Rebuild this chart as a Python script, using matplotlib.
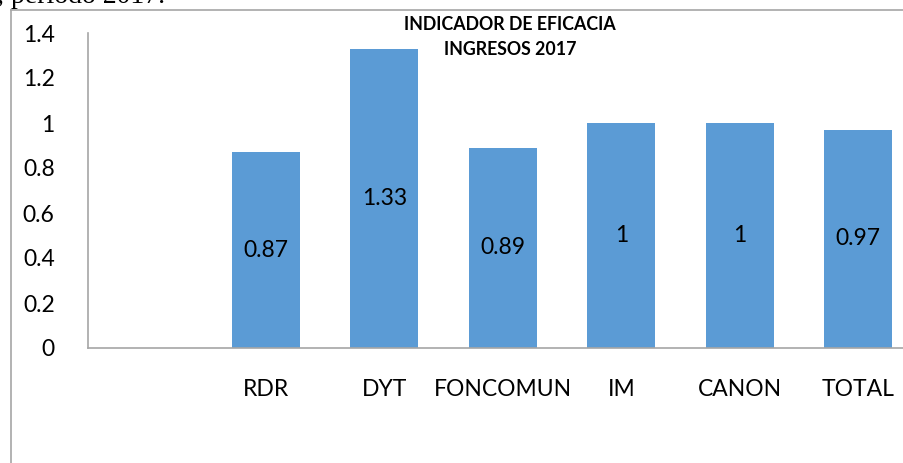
import matplotlib
matplotlib.use("Agg")
import matplotlib.pyplot as plt
from matplotlib.lines import Line2D

# Data
categories = ["", "RDR", "DYT", "FONCOMUN", "IM", "CANON", "TOTAL"]
values = [None, 0.87, 1.33, 0.89, 1.0, 1.0, 0.97]
labels = ["", "0.87", "1.33", "0.89", "1", "1", "0.97"]
yticks = [0, 0.2, 0.4, 0.6, 0.8, 1.0, 1.2, 1.4]
ytick_labels = ["0", "0.2", "0.4", "0.6", "0.8", "1", "1.2", "1.4"]

BAR = "#5b9bd5"
GRAY = "#a6a6a6"
plt.rcParams["font.family"] = ["Lato", "DejaVu Sans"]

W, H = 904, 463
fig = plt.figure(figsize=(W / 100, H / 100), dpi=100)
ax = fig.add_axes([88 / W, (H - 348) / H, 829.5 / W, 315 / H])

xs = [i for i, v in enumerate(values) if v is not None]
hs = [v for v in values if v is not None]
bars = ax.bar(xs, hs, width=0.57, color=BAR, zorder=2)
for x, h in zip(xs, hs):
    ax.text(x, h / 2, labels[x], ha="center", va="center", fontsize=16.5, color="black")

ax.set_xlim(-0.5, 6.5)
ax.set_ylim(0, 1.4)
ax.set_yticks(yticks)
ax.set_yticklabels(ytick_labels, fontsize=16.5)
ax.set_xticks(range(len(categories)))
ax.set_xticklabels(categories, fontsize=16.5)
ax.tick_params(axis="y", length=0, pad=24)
ax.tick_params(axis="x", length=0, pad=22)
for s in ["top", "right"]:
    ax.spines[s].set_visible(False)
for s in ["left", "bottom"]:
    ax.spines[s].set_color(GRAY)
    ax.spines[s].set_linewidth(1.2)

fig.text(510 / W, 1 - 16 / H, "INDICADOR DE EFICACIA\nINGRESOS 2017",
         ha="center", va="top", fontsize=12.8, fontweight="bold", linespacing=1.6)

# outer frame of the embedded chart
fig.add_artist(Line2D([11 / W, 11 / W], [0, 1 - 9.5 / H], transform=fig.transFigure, color=GRAY, lw=1.2))
fig.add_artist(Line2D([11 / W, 1], [1 - 9.5 / H, 1 - 9.5 / H], transform=fig.transFigure, color=GRAY, lw=1.2))

# cropped document text above the chart
fig.text(-3 / W, 1 - 3 / H, ", periodo 2017.", family=["Liberation Serif", "DejaVu Serif"],
         fontsize=20, va="baseline", ha="left")

fig.savefig("out.png", dpi=100)
